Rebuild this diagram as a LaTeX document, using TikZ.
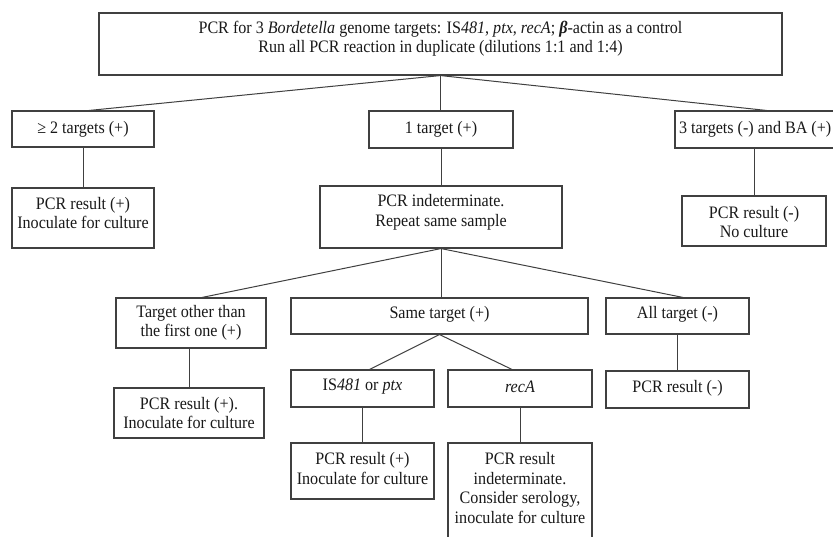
\documentclass[tikz,border=0pt]{standalone}
\usepackage{fontspec}
\setmainfont{Liberation Serif}[FakeStretch=0.92]
\begin{document}
\begin{tikzpicture}[x=1pt,y=-1pt,
  box/.style={draw=black!75,line width=1.1pt,inner sep=0pt,rectangle},
  txt/.style={align=center,inner sep=0pt,font=\fontsize{17.5}{19.5}\selectfont,text=black!90},
  conn/.style={draw=black!75,line width=1pt}]
\useasboundingbox (0,0) rectangle (833,536);
\fill[white] (0,0) rectangle (833,536);
% boxes
\node[box,minimum width=683,minimum height=62] (top) at (440.5,44) {};
\node[box,minimum width=142,minimum height=36] (ge2) at (83,129) {};
\node[box,minimum width=144,minimum height=37] (one) at (441,129.5) {};
\node[box,minimum width=161,minimum height=37] (three) at (755.5,129.5) {};
\node[box,minimum width=142,minimum height=60] (resL) at (83,218) {};
\node[box,minimum width=242,minimum height=62] (indet) at (441,217) {};
\node[box,minimum width=144,minimum height=50] (res3) at (754,221) {};
\node[box,minimum width=150,minimum height=50] (other) at (191,323) {};
\node[box,minimum width=297,minimum height=36] (same) at (439.5,316) {};
\node[box,minimum width=143,minimum height=36] (all) at (677.5,316) {};
\node[box,minimum width=150,minimum height=50] (resO) at (189,413) {};
\node[box,minimum width=143,minimum height=37] (is) at (362.5,388.5) {};
\node[box,minimum width=144,minimum height=37] (reca) at (520,388.5) {};
\node[box,minimum width=143,minimum height=37] (resA) at (677.5,389.5) {};
\node[box,minimum width=143,minimum height=56] (resIS) at (362.5,471) {};
\node[box,minimum width=144,minimum height=97] (resR) at (520,491.5) {};
% texts
\node[txt] (ttop) at (440.5,38.5) {PCR for 3 \textit{Bordetella} genome targets: IS\textit{481}, \textit{ptx}, \textit{recA}; \textbf{\textit{β}}-actin as a control\\Run all PCR reaction in duplicate (dilutions 1:1 and 1:4)};
\node[txt] (tge2) at (83,129) {≥ 2 targets (+)};
\node[txt] (tone) at (441,129.5) {1 target (+)};
\node[txt,anchor=east] (tthree) at (831.5,129.5) {3 targets (-) and BA (+)};
\node[txt] (tresL) at (83,213) {PCR result (+)\\Inoculate for culture};
\node[txt] (tindet) at (441,212.5) {PCR indeterminate.\\Repeat same sample};
\node[txt] (tres3) at (754,222) {PCR result (-)\\No culture};
\node[txt] (tother) at (191,323) {Target other than\\the first one (+)};
\node[txt] (tsame) at (439.5,314) {Same target (+)};
\node[txt] (tall) at (677.5,314) {All target (-)};
\node[txt] (tresO) at (189,413) {PCR result (+).\\Inoculate for culture};
\node[txt] (tis) at (362.5,387) {IS\textit{481} or \textit{ptx}};
\node[txt] (treca) at (520,387) {\textit{recA}};
\node[txt] (tresA) at (677.5,388) {PCR result (-)};
\node[txt] (tresIS) at (362.5,468.5) {PCR result (+)\\Inoculate for culture};
\node[txt] (tresR) at (520,488) {PCR result\\indeterminate.\\Consider serology,\\inoculate for culture};
% connectors
\draw[conn] (top.south) -- ([xshift=6pt]ge2.north);
\draw[conn] (top.south) -- (top.south |- one.north);
\draw[conn] (top.south) -- ([xshift=11pt]three.north);
\draw[conn] (ge2.south) -- (resL.north);
\draw[conn] (one.south) -- (indet.north);
\draw[conn] (res3.north |- three.south) -- (res3.north);
\draw[conn] (indet.south) -- ([xshift=11pt]other.north);
\draw[conn] (indet.south) -- (indet.south |- same.north);
\draw[conn] (indet.south) -- ([xshift=5.5pt]all.north);
\draw[conn] (resO.north |- other.south) -- (resO.north);
\draw[conn] (same.south) -- ([xshift=7pt]is.north);
\draw[conn] (same.south) -- ([xshift=-8pt]reca.north);
\draw[conn] (is.south) -- (resIS.north);
\draw[conn] (reca.south) -- (resR.north);
\draw[conn] (all.south) -- (resA.north);
\end{tikzpicture}
\end{document}
